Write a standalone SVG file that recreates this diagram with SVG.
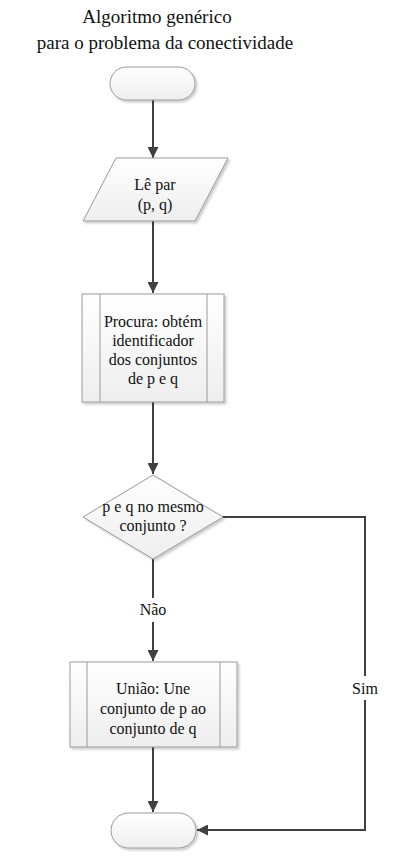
<svg xmlns="http://www.w3.org/2000/svg" width="400" height="868" viewBox="0 0 400 868" font-family="'Liberation Serif', 'DejaVu Serif', serif">
<style>
.shape{fill:url(#g);stroke:#9a9a9a;stroke-width:1;filter:url(#sh)}
.in{stroke:#9a9a9a;stroke-width:1;fill:none}
text{font-family:'Liberation Serif','DejaVu Serif',serif}
.t{font-size:16px;fill:#111;text-anchor:middle}
.title{font-size:19px;fill:#111;text-anchor:middle}
.c{stroke:#404040;stroke-width:2;fill:none}
</style>
<defs>
<linearGradient id="g" x1="0" y1="0" x2="0" y2="1"><stop offset="0" stop-color="#ffffff"/><stop offset="1" stop-color="#eeeeee"/></linearGradient>
<filter id="sh" x="-10%" y="-10%" width="130%" height="130%"><feDropShadow dx="2" dy="2" stdDeviation="1.2" flood-color="#000" flood-opacity="0.2"/></filter>
<marker id="a" viewBox="0 0 10 10" refX="10" refY="5" markerWidth="5.5" markerHeight="5.5" orient="auto" markerUnits="strokeWidth"><path d="M0,0 L10,5 L0,10 z" fill="#404040"/></marker>
</defs>
<g id="title">
<text class="title" x="157" y="23">Algoritmo genérico</text>
<text class="title" x="165" y="49">para o problema da conectividade</text>
</g>
<g id="connectors">
<line class="c" x1="153" y1="100" x2="153" y2="158" marker-end="url(#a)"/>
<line class="c" x1="153" y1="221" x2="153" y2="293" marker-end="url(#a)"/>
<line class="c" x1="153" y1="402" x2="153" y2="474" marker-end="url(#a)"/>
<polyline class="c" points="153,559 153,598"/>
<line class="c" x1="153" y1="622" x2="153" y2="661" marker-end="url(#a)"/>
<line class="c" x1="153" y1="747" x2="153" y2="812" marker-end="url(#a)"/>
<polyline class="c" points="223,517 365,517 365,676"/>
<polyline class="c" points="365,700 365,830 197,830" marker-end="url(#a)"/>
<text class="t" x="153" y="615">Não</text>
<text class="t" x="365" y="694">Sim</text>
</g>
<g id="start">
<rect class="shape" x="110" y="67" width="85" height="33" rx="16.5"/>
</g>
<g id="read">
<polygon class="shape" points="116,158 228,158 195,221 83,221"/>
<text class="t" x="155" y="190">Lê par</text>
<text class="t" x="155" y="210">(p, q)</text>
</g>
<g id="find">
<rect class="shape" x="82" y="294" width="142" height="108"/>
<line class="in" x1="100" y1="294" x2="100" y2="402"/>
<line class="in" x1="207" y1="294" x2="207" y2="402"/>
<text class="t" x="153" y="327">Procura: obtém</text>
<text class="t" x="153" y="346">identificador</text>
<text class="t" x="153" y="365">dos conjuntos</text>
<text class="t" x="153" y="384">de p e q</text>
</g>
<g id="decision">
<polygon class="shape" points="153,475 223,517 153,559 83,517"/>
<text class="t" x="153" y="512">p e q no mesmo</text>
<text class="t" x="153" y="531">conjunto ?</text>
</g>
<g id="union">
<rect class="shape" x="70" y="662" width="167" height="85"/>
<line class="in" x1="87" y1="662" x2="87" y2="747"/>
<line class="in" x1="220" y1="662" x2="220" y2="747"/>
<text class="t" x="153" y="694">União: Une</text>
<text class="t" x="153" y="714">conjunto de p ao</text>
<text class="t" x="153" y="734">conjunto de q</text>
</g>
<g id="end">
<rect class="shape" x="111" y="813" width="85" height="35" rx="17.5"/>
</g>
</svg>
